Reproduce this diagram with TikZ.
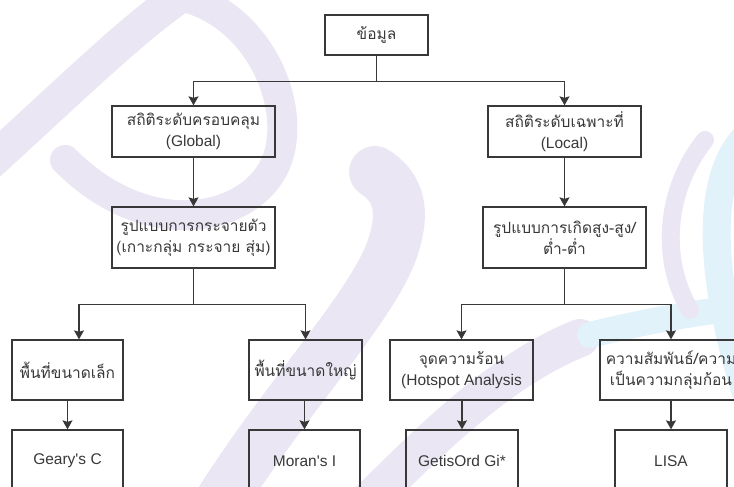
\documentclass[tikz,border=0pt]{standalone}
\usepackage{fontspec}
\setmainfont{Liberation Sans}[Ligatures=TeXOff]
\newfontfamily\thaifont[Script=Thai]{Loma}
\usetikzlibrary{arrows.meta,calc}

\definecolor{linegray}{HTML}{383838}
\definecolor{wmpurple}{HTML}{EAE6F3}
\definecolor{wmblue}{HTML}{E1F2FA}

\tikzset{
  box/.style={draw=linegray, line width=1.3pt, text=linegray, align=center,
    inner sep=2pt, font=\fontsize{15.5}{21}\selectfont},
  arr/.style={draw=linegray, line width=1.3pt,
    -{Stealth[length=9pt,width=10pt,inset=1.5pt]}},
  link/.style={draw=linegray, line width=1.3pt},
  wm/.style={draw=wmpurple, line cap=round},
  wmb/.style={draw=wmblue, line cap=round},
}

\begin{document}
\begin{tikzpicture}[x=1pt,y=-1pt]
    \useasboundingbox (0,0) rectangle (734,487);
    \clip (0,0) rectangle (734,487);

    % watermark
    \draw[wm, line width=34pt] (-40,190) .. controls (60,100) and (140,20) .. (190,-10);
    \draw[wm, line width=30pt] (175,-5) .. controls (260,10) and (300,110) .. (275,165)
        .. controls (250,220) and (150,245) .. (65,160);
    \draw[wm, line width=52pt] (215,510) .. controls (290,390) and (380,300) .. (395,240)
        .. controls (405,205) and (395,185) .. (375,172);
    \draw[wm, line width=38pt] (360,510) .. controls (430,440) and (500,370) .. (580,338);
    \draw[wmb, line width=26pt] (590,335) .. controls (650,320) and (700,312) .. (760,305);
    \draw[wmb, line width=28pt] (760,125) .. controls (705,160) and (705,260) .. (745,390);
    \draw[wm, line width=18pt] (705,140) .. controls (665,190) and (660,260) .. (690,310);

    % boxes
    \node[box, minimum width=103pt, minimum height=40pt] (data) at (376.5,35) {\thaifont ข้อมูล};
    \node[box, minimum width=163pt, minimum height=51pt] (global) at (193.5,131.5)
        {{\thaifont สถิติระดับครอบคลุม}\\(Global)};
    \node[box, minimum width=153pt, minimum height=51pt] (local) at (564.5,131.5)
        {{\thaifont สถิติระดับเฉพาะที่}\\(Local)};
    \node[box, minimum width=163pt, minimum height=61pt] (spread) at (193.5,237.5)
        {{\thaifont รูปแบบการกระจายตัว}\\{\thaifont (เกาะกลุ่ม กระจาย สุ่ม)}};
    \node[box, minimum width=163pt, minimum height=61pt] (highlow) at (564.5,237.5)
        {{\thaifont รูปแบบการเกิดสูง-สูง/}\\{\thaifont ต่ำ-ต่ำ}};
    \node[box, minimum width=111pt, minimum height=60pt] (small) at (67.5,370) {\thaifont พื้นที่ขนาดเล็ก};
    \node[box, minimum width=113pt, minimum height=60pt] (large) at (305.5,370) {\thaifont พื้นที่ขนาดใหญ่};
    \node[box, minimum width=143pt, minimum height=60pt] (hotspot) at (461.5,370)
        {{\thaifont จุดความร้อน}\\(Hotspot Analysis};
    \node[box, minimum width=142pt, minimum height=60pt] (cluster) at (671,370)
        {{\thaifont ความสัมพันธ์/ความ}\\{\thaifont เป็นความกลุ่มก้อน}};
    \node[box, minimum width=111pt, minimum height=62pt] (geary) at (67.5,461) {Geary's C};
    \node[box, minimum width=111pt, minimum height=62pt] (moran) at (304.5,461) {Moran's I};
    \node[box, minimum width=112pt, minimum height=62pt] (getis) at (462,461) {GetisOrd Gi*};
    \node[box, minimum width=112pt, minimum height=62pt] (lisa) at (671,461) {LISA};

    \coordinate (smallin) at ($(small.north)+(11.5,0)$);

    % connectors
    \draw[link] (data.south) -- ++(0,26) coordinate (split);
    \draw[arr] (split) -| (global.north);
    \draw[arr] (split) -| (local.north);
    \draw[arr] (global) -- (spread);
    \draw[arr] (local) -- (highlow);
    \draw[link] (spread.south) -- ++(0,36) coordinate (lsplit);
    \draw[arr] (lsplit) -| (smallin);
    \draw[arr] (lsplit) -| (large.north);
    \draw[link] (highlow.south) -- ++(0,36) coordinate (rsplit);
    \draw[arr] (rsplit) -| (hotspot.north);
    \draw[arr] (rsplit) -| (cluster.north);
    \draw[arr] (small) -- (geary);
    \draw[arr] (large.south -| moran.north) -- (moran.north);
    \draw[arr] (hotspot.south -| getis.north) -- (getis.north);
    \draw[arr] (cluster) -- (lisa);
\end{tikzpicture}
\end{document}
